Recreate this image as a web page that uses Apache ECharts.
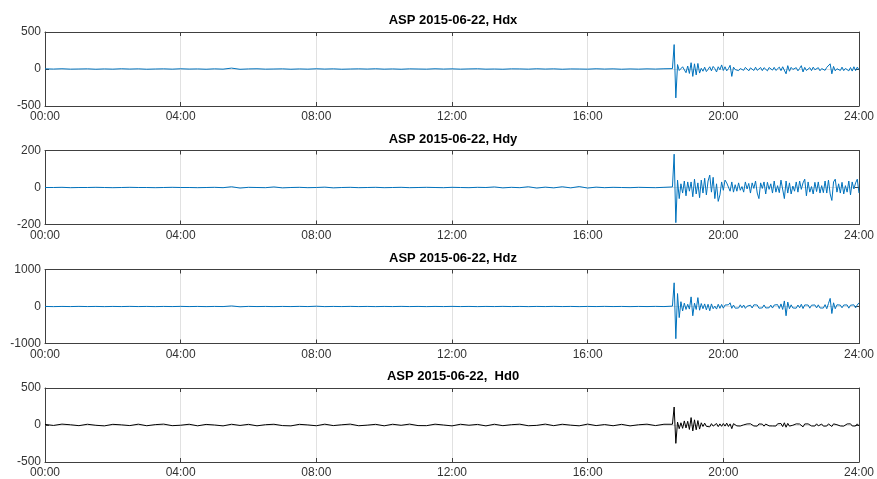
<!DOCTYPE html>
<html>
<head>
<meta charset="utf-8">
<script src="https://cdn.jsdelivr.net/npm/echarts@6/dist/echarts.min.js"></script>
<style>
  html, body { margin: 0; padding: 0; background: #fff; }
  #chart { width: 877px; height: 479px; }
</style>
</head>
<body>
<div id="chart"></div>
<script>
// Station ASP, 2015-06-22: four magnetometer components over one day.
const panelTitles = ['ASP 2015-06-22, Hdx', 'ASP 2015-06-22, Hdy', 'ASP 2015-06-22, Hdz', 'ASP 2015-06-22,  Hd0'];
const yLimits = [500, 200, 1000, 500];
const xTickLabels = ['00:00', '04:00', '08:00', '12:00', '16:00', '20:00', '24:00'];

// Sample times in minutes after midnight: coarse before the event, fine from 18:30 on.
const quietStep = 15, activeStart = 1110, activeStep = 3, dayEnd = 1440;
const minutes = [];
for (let t = 0; t < activeStart; t += quietStep) minutes.push(t);
for (let t = activeStart; t <= dayEnd; t += activeStep) minutes.push(t);

const hdx = [
  2,-1,3,-2,0,2,-3,1,-2,3,
  -1,2,-3,0,2,-2,3,-1,1,-3,
  2,-2,12,-4,1,3,-2,0,2,-3,
  1,-2,3,-1,2,-3,0,2,-1,3,
  -2,1,-3,2,0,-2,3,-1,2,-2,
  1,3,-2,0,-3,2,1,-2,3,-1,
  2,-3,1,0,-2,3,-1,2,-3,1,
  -2,2,-1,3,
  5,330,-390,60,-20,-45,30,8,-50,40,
  -60,85,-100,70,-80,75,-55,10,-30,25,
  -35,-5,30,-25,35,5,-40,30,-10,55,
  -20,30,-25,5,50,-100,25,-8,18,-22,
  6,20,-18,22,-5,-25,15,3,-20,24,
  -18,5,20,-22,18,-8,-25,20,10,-15,
  22,-20,4,25,-22,30,55,-65,45,-30,
  22,-6,-20,18,-25,8,45,-40,22,-20,
  5,18,-22,25,-10,-20,18,-24,6,20,
  -18,22,30,70,-65,35,-25,4,22,-20,
  25,-22,8,18,-25,20,-28,30,-22,25,
  -10
];

const hdy = [
  0,0,1,-1,0,0,1,0,-1,0,
  1,0,0,-1,0,1,0,0,-1,0,
  1,-1,4,-3,1,0,-1,3,-2,0,
  1,-1,0,2,-2,0,1,-1,0,1,
  -1,0,1,-1,0,1,0,-1,1,0,
  -1,1,0,3,-2,1,-1,4,-3,2,
  -2,4,-2,5,-3,2,-1,1,0,-1,
  1,0,-1,1,
  3,180,-190,40,-60,20,-30,35,-45,30,
  -20,30,-50,45,-35,25,-55,40,-30,50,
  -40,35,67,-25,55,-60,20,-75,-40,30,
  -15,40,25,35,-20,30,-25,15,-20,25,
  -15,5,-25,30,-8,22,-30,25,-5,35,
  -30,-60,25,-5,30,-35,28,-10,20,-30,
  35,-25,10,-28,40,50,-60,35,-30,25,
  -35,8,-20,30,-25,35,-10,25,45,-45,
  30,-25,5,-35,28,-22,30,-30,10,-28,
  35,-30,40,-35,-70,30,45,-25,20,-30,
  28,-35,10,-25,35,-40,30,-8,25,45,
  -30
];

const hdz = [
  2,-3,2,-2,3,-2,2,-3,2,-2,
  3,-2,2,-3,2,-2,3,-2,2,-3,
  2,-2,15,-8,3,-2,2,-3,2,-2,
  3,-2,8,-3,2,-2,3,-2,2,-3,
  2,-2,3,-2,2,-3,2,-2,3,-2,
  2,-3,2,-2,3,-2,2,-3,2,-2,
  3,-2,2,-3,2,-2,3,-2,2,-3,
  2,-2,3,-2,
  10,640,-870,350,-300,130,-120,90,-80,60,
  -70,260,-250,90,-80,240,-100,80,-60,70,
  -90,60,-115,70,-60,10,-70,60,-50,55,
  -45,40,-10,45,100,-50,40,-45,5,-40,
  45,-35,40,-50,8,-42,35,-40,45,-8,
  40,-45,5,-38,42,-40,10,-35,38,-42,
  40,-5,50,-55,70,-80,150,-250,120,-60,
  45,-40,8,-45,40,-35,60,-55,42,-8,
  40,-45,35,-5,42,-38,45,-40,10,-42,
  50,-60,80,220,-190,100,-60,45,-5,38,
  -35,40,-8,42,-45,35,-10,45,-38,42,
  100
];

const hd0 = [
  8,-6,12,3,-9,10,-4,-12,9,2,
  -8,11,-10,5,12,-9,-3,10,-11,8,
  0,-12,10,-6,9,-11,4,10,-8,-12,
  9,1,-10,11,-8,3,12,-10,-2,9,
  -11,10,-4,12,-8,-9,11,0,-12,10,
  -3,8,-12,10,-9,4,11,-10,-5,12,
  -9,10,-2,-11,12,-8,6,-10,9,-12,
  3,11,-8,10,
  10,243,-248,40,-50,30,-45,55,-40,50,
  -60,100,-80,70,-65,60,-55,30,-20,25,
  -18,5,-25,18,-15,2,20,-22,15,-18,
  20,-15,25,-20,15,-50,18,-3,-12,15,
  -14,12,2,-15,14,-12,16,-4,-13,12,
  -15,14,-3,12,-16,13,-2,-12,15,-13,
  12,-14,16,-4,20,-22,30,-30,22,-15,
  12,-3,-14,15,-12,13,25,-25,14,-12,
  15,-2,-13,12,-14,16,-12,3,13,-15,
  12,-14,15,20,-20,15,-12,4,14,-13,
  12,-15,2,14,-12,16,-13,12,-14,15,
  -12
];

const seriesValues = [hdx, hdy, hdz, hd0];
const lineColors = ['#0072BD', '#0072BD', '#0072BD', '#000000'];

const FONT = "'Liberation Sans', Arial, Helvetica, sans-serif";
const AXIS_COLOR = '#404040';
const GRID_COLOR = '#e1e1e1';
const panelTops = [32, 150.5, 269.5, 388];
const panelHeight = 74;

const grids = [], xAxes = [], yAxes = [], series = [], titles = [];

panelTops.forEach((top, k) => {
  grids.push({ left: 45, right: 17, top: top, height: panelHeight });
  titles.push({
    text: panelTitles[k], left: 453, textAlign: 'center', top: top - 18, padding: 0,
    textStyle: { fontFamily: FONT, fontSize: 13, fontWeight: 'bold', color: '#000' }
  });
  const lineStyle = { color: AXIS_COLOR, width: 1 };
  const tick = { show: true, inside: true, length: 4, lineStyle: lineStyle };
  // bottom axis with hour labels and vertical grid lines
  xAxes.push({
    gridIndex: k, type: 'value', min: 0, max: dayEnd, interval: 240, position: 'bottom',
    axisLine: { show: true, onZero: false, lineStyle: lineStyle },
    axisTick: tick,
    splitLine: { show: true, lineStyle: { color: GRID_COLOR, width: 1 } },
    axisLabel: {
      show: true, margin: 5, fontFamily: FONT, fontSize: 12, color: '#333',
      showMinLabel: true, showMaxLabel: true,
      formatter: v => xTickLabels[Math.round(v / 240)]
    }
  });
  // top axis closes the box
  xAxes.push({
    gridIndex: k, type: 'value', min: 0, max: dayEnd, interval: 240, position: 'top',
    axisLine: { show: true, onZero: false, lineStyle: lineStyle },
    axisTick: tick, axisLabel: { show: false }, splitLine: { show: false }
  });
  const lim = yLimits[k];
  yAxes.push({
    gridIndex: k, type: 'value', min: -lim, max: lim, interval: lim, position: 'left',
    axisLine: { show: true, onZero: false, lineStyle: lineStyle },
    axisTick: tick,
    splitLine: { show: true, lineStyle: { color: GRID_COLOR, width: 1 } },
    axisLabel: {
      show: true, margin: 4, fontFamily: FONT, fontSize: 12, color: '#333',
      showMinLabel: true, showMaxLabel: true,
      formatter: v => String(v)
    }
  });
  yAxes.push({
    gridIndex: k, type: 'value', min: -lim, max: lim, interval: lim, position: 'right',
    axisLine: { show: true, onZero: false, lineStyle: lineStyle },
    axisTick: tick, axisLabel: { show: false }, splitLine: { show: false }
  });
  series.push({
    type: 'line', xAxisIndex: 2 * k, yAxisIndex: 2 * k,
    data: minutes.map((t, i) => [t, seriesValues[k][i]]),
    showSymbol: false, symbol: 'none', sampling: null, smooth: false,
    lineStyle: { color: lineColors[k], width: 1 },
    z: 3
  });
});

const chart = echarts.init(document.getElementById('chart'), null, { renderer: 'canvas' });
chart.setOption({
  animation: false,
  backgroundColor: '#fff',
  title: titles,
  grid: grids,
  xAxis: xAxes,
  yAxis: yAxes,
  series: series
});
</script>
</body>
</html>
